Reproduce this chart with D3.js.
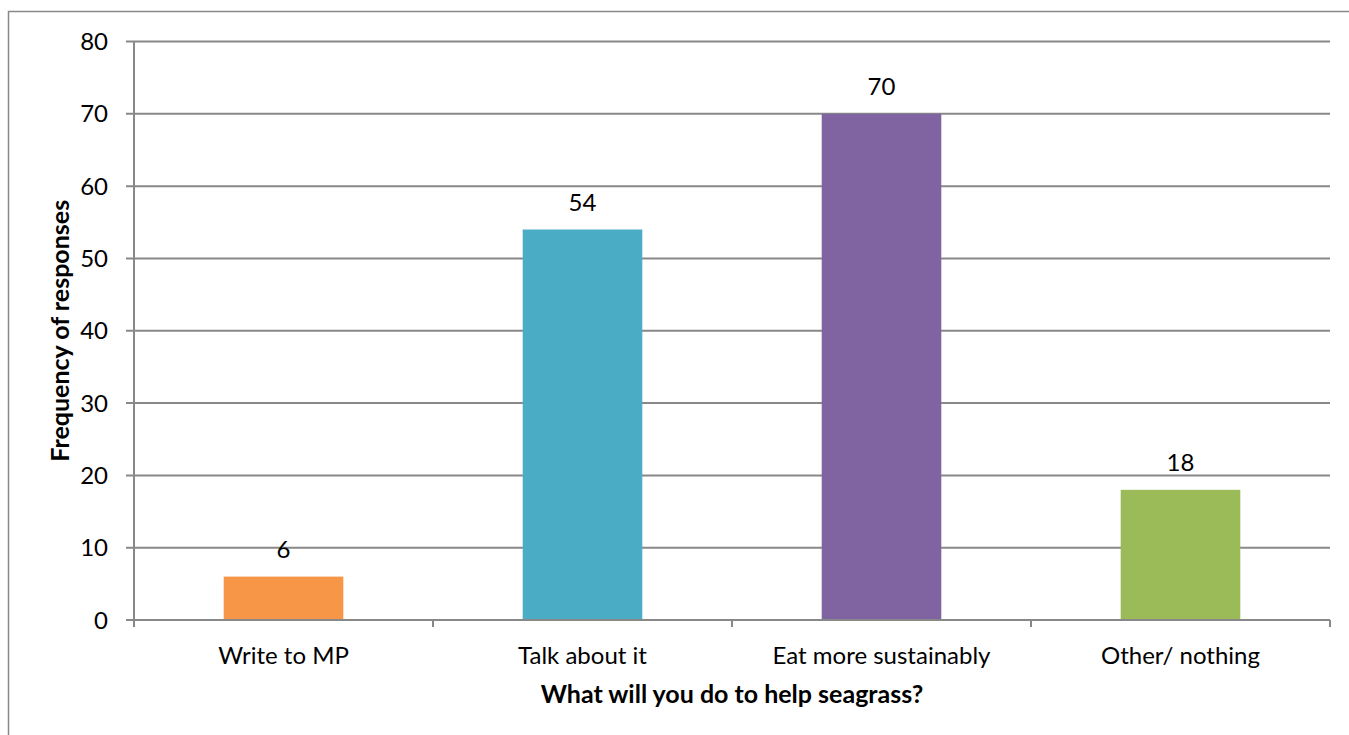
<!DOCTYPE html>
<html>
<head>
<meta charset="utf-8">
<script src="https://cdn.jsdelivr.net/npm/d3@7"></script>
<style>
  body { margin: 0; background: #fff; }
  svg { display: block; }
  text { font-family: Lato, "Open Sans", sans-serif; fill: #000; }
</style>
</head>
<body>
<svg></svg>
<script>
var categories = ["Write to MP", "Talk about it", "Eat more sustainably", "Other/ nothing"];
var values = [6, 54, 70, 18];
var colors = ["#F79646", "#4BACC6", "#8064A2", "#9BBB59"];
var yTicks = [0, 10, 20, 30, 40, 50, 60, 70, 80];

var width = 1349;
var height = 735;
var margin = {left: 134, right: 19, top: 41.5, bottom: 115};

var svg = d3.select("svg")
  .attr("width", width)
  .attr("height", height);

// outer chart frame
svg.append("rect")
  .attr("x", 8.5).attr("y", 11.5)
  .attr("width", width).attr("height", height)
  .attr("fill", "none")
  .attr("stroke", "#898989")
  .attr("stroke-width", 1.5);

var x = d3.scaleBand()
  .domain(categories)
  .range([margin.left, width - margin.right])
  .padding(0);

var y = d3.scaleLinear()
  .domain([0, 80])
  .range([620, margin.top]);

// gridlines
svg.append("g")
  .selectAll("line")
  .data(yTicks)
  .enter()
  .append("line")
  .attr("x1", margin.left - 8)
  .attr("x2", width - margin.right)
  .attr("y1", function(d) { return y(d); })
  .attr("y2", function(d) { return y(d); })
  .attr("stroke", "#888")
  .attr("stroke-width", 2);

// bars
var barW = x.bandwidth() * 0.4;
svg.append("g")
  .selectAll("rect")
  .data(values)
  .enter()
  .append("rect")
  .attr("x", function(d, i) { return x(categories[i]) + (x.bandwidth() - barW) / 2; })
  .attr("y", function(d) { return y(d); })
  .attr("width", barW)
  .attr("height", function(d) { return y(0) - y(d); })
  .attr("fill", function(d, i) { return colors[i]; });

// y axis line
svg.append("line")
  .attr("x1", margin.left).attr("x2", margin.left)
  .attr("y1", y(80)).attr("y2", y(0) + 7)
  .attr("stroke", "#888").attr("stroke-width", 2);

// x axis baseline + ticks
svg.append("line")
  .attr("x1", margin.left).attr("x2", width - margin.right)
  .attr("y1", y(0)).attr("y2", y(0))
  .attr("stroke", "#888").attr("stroke-width", 2);

var xTickPos = categories.map(function(c) { return x(c); });
xTickPos.push(width - margin.right);
svg.append("g")
  .selectAll("line")
  .data(xTickPos)
  .enter()
  .append("line")
  .attr("x1", function(d) { return d; })
  .attr("x2", function(d) { return d; })
  .attr("y1", y(0))
  .attr("y2", y(0) + 7)
  .attr("stroke", "#888")
  .attr("stroke-width", 2);

// y tick labels
svg.append("g")
  .selectAll("text")
  .data(yTicks)
  .enter()
  .append("text")
  .attr("x", 108)
  .attr("y", function(d) { return y(d); })
  .attr("dy", "0.36em")
  .attr("text-anchor", "end")
  .style("font-size", "24px")
  .text(function(d) { return d; });

// category labels
svg.append("g")
  .selectAll("text")
  .data(categories)
  .enter()
  .append("text")
  .attr("x", function(d) { return x(d) + x.bandwidth() / 2; })
  .attr("y", 664)
  .attr("text-anchor", "middle")
  .style("font-size", "24px")
  .text(function(d) { return d; });

// data labels
svg.append("g")
  .selectAll("text")
  .data(values)
  .enter()
  .append("text")
  .attr("x", function(d, i) { return x(categories[i]) + x.bandwidth() / 2; })
  .attr("y", function(d) { return y(d) - 19; })
  .attr("text-anchor", "middle")
  .style("font-size", "24px")
  .text(function(d) { return d; });

// axis titles
svg.append("text")
  .attr("x", (margin.left + width - margin.right) / 2)
  .attr("y", 703)
  .attr("text-anchor", "middle")
  .style("font-size", "25px")
  .style("font-weight", "bold")
  .text("What will you do to help seagrass?");

svg.append("text")
  .attr("transform", "translate(69," + y(40) + ") rotate(-90)")
  .attr("text-anchor", "middle")
  .style("font-size", "25px")
  .style("font-weight", "bold")
  .text("Frequency of responses");
</script>
</body>
</html>
